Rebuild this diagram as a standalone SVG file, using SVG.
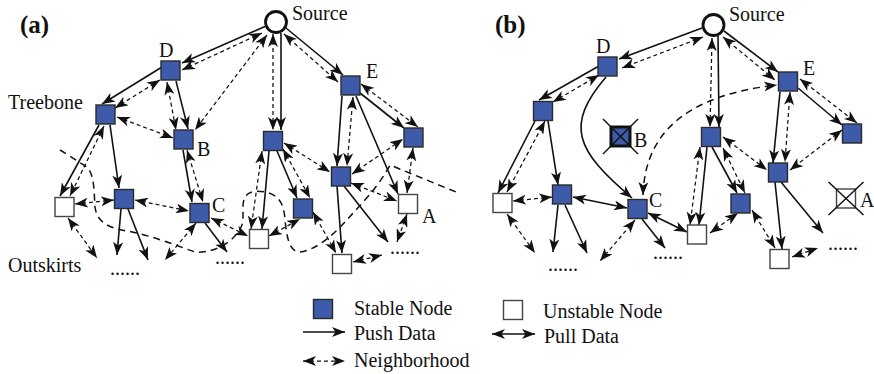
<svg xmlns="http://www.w3.org/2000/svg" width="874" height="374" viewBox="0 0 874 374">
<style>
text{font-family:"Liberation Serif","Times New Roman",serif;font-size:20px;fill:#111}
.t{font-weight:bold;font-size:25px}
.s{stroke:#111;stroke-width:1.6;fill:none;marker-end:url(#ah)}
.p{stroke:#111;stroke-width:1.6;fill:none;marker-start:url(#ah);marker-end:url(#ah)}
.d{stroke:#111;stroke-width:1.25;stroke-dasharray:4 3;fill:none;marker-start:url(#ah);marker-end:url(#ah)}
.dl{stroke:#111;stroke-width:1.5;stroke-dasharray:7 5;fill:none;marker-start:url(#ah);marker-end:url(#ah)}
.bd{stroke:#111;stroke-width:1.5;stroke-dasharray:7 5;fill:none}
.n{fill:#3d5ba9;stroke:#2a2a2a;stroke-width:1.4}
.u{fill:#fff;stroke:#444;stroke-width:1.4}
.src{fill:#fff;stroke:#111;stroke-width:2.8}
.x{stroke:#111;stroke-width:1.5}
</style>
<defs>
<marker id="ah" viewBox="0 0 13 10" refX="13" refY="5" markerWidth="13" markerHeight="10" orient="auto-start-reverse" markerUnits="userSpaceOnUse">
<path d="M0,0 L13,5 L0,10 L3.5,5 Z" fill="#111"/>
</marker>
</defs>
<rect width="874" height="374" fill="#fff"/>

<g id="connectors">
<!-- panel a boundary -->
<path class="bd" d="M60,150 L87,167 C95,175 94,195 95,207 C97,222 108,228 127,231 C150,235 175,245 195,252 C215,254 238,240 243,222 L243,205 C244,192 252,190 265,192 C280,195 284,205 285,220 C287,240 290,252 300,252 C315,250 330,238 345,222 C360,205 378,188 390,165 L456,192"/>
<!-- panel a push -->
<path class="s" d="M266,26 L182,63"/>
<path class="s" d="M162,67 L102,104"/>
<path class="s" d="M176,81 L188,129"/>
<path class="s" d="M281,33 L281,130"/>
<path class="s" d="M286,28 L343,75"/>
<path class="s" d="M360,93 L404,128"/>
<path class="s" d="M342,96 L337,166"/>
<path class="s" d="M356,96 L398,194"/>
<path class="s" d="M99,125 L60,196"/>
<path class="s" d="M110,125 L119,188"/>
<path class="s" d="M183,150 L192,202"/>
<path class="s" d="M269,151 L262,229"/>
<path class="s" d="M277,151 L297,198"/>
<path class="s" d="M337,186 L342,253"/>
<path class="s" d="M344,186 L388,242"/>
<path class="s" d="M121,209 L117,255"/>
<path class="s" d="M128,209 L148,260"/>
<path class="s" d="M205,223 L227,252"/>
<!-- panel a neighborhood -->
<path class="d" d="M262,33 L182,70"/>
<path class="d" d="M267,35 L195,130"/>
<path class="d" d="M273,34 L273,130"/>
<path class="d" d="M284,34 L338,82"/>
<path class="d" d="M160,80 L115,108"/>
<path class="d" d="M167,82 L176,130"/>
<path class="d" d="M117,117 L173,138"/>
<path class="d" d="M104,126 L70,196"/>
<path class="d" d="M75,204 L114,200"/>
<path class="d" d="M135,200 L189,211"/>
<path class="d" d="M68,218 L97,258"/>
<path class="d" d="M196,223 L165,260"/>
<path class="d" d="M187,150 L203,202"/>
<path class="d" d="M211,218 L248,236"/>
<path class="d" d="M262,151 L251,229"/>
<path class="d" d="M283,149 L310,198"/>
<path class="d" d="M284,143 L330,172"/>
<path class="d" d="M353,97 L347,166"/>
<path class="d" d="M361,84 L418,127"/>
<path class="d" d="M352,174 L403,139"/>
<path class="d" d="M413,148 L407,193"/>
<path class="d" d="M351,183 L397,201"/>
<path class="d" d="M269,236 L300,219"/>
<path class="d" d="M313,212 L336,253"/>
<path class="d" d="M353,262 L382,255"/>
<path class="d" d="M407,214 L397,242"/>
<!-- panel b push -->
<path class="s" d="M702,28 L619,59"/>
<path class="s" d="M718,36 L719,127"/>
<path class="s" d="M724,31 L778,72"/>
<path class="s" d="M599,66 L539,100"/>
<path class="s" d="M606,77 C565,125 575,150 632,198"/>
<path class="s" d="M535,121 L498,193"/>
<path class="s" d="M548,121 L558,185"/>
<path class="s" d="M780,92 L773,163"/>
<path class="s" d="M798,88 L842,125"/>
<path class="s" d="M707,147 L699,225"/>
<path class="s" d="M712,147 L737,193"/>
<path class="s" d="M775,182 L782,249"/>
<path class="s" d="M781,182 L823,233"/>
<path class="s" d="M558,205 L553,252"/>
<path class="s" d="M565,205 L587,253"/>
<path class="s" d="M642,219 L665,248"/>
<!-- panel b pull -->
<path class="p" d="M573,197 L627,208"/>
<path class="p" d="M648,213 L687,232"/>
<!-- panel b neighborhood -->
<path class="d" d="M703,37 L622,68"/>
<path class="d" d="M712,38 L710,127"/>
<path class="d" d="M723,37 L775,80"/>
<path class="d" d="M599,75 L553,102"/>
<path class="d" d="M545,121 L507,192"/>
<path class="d" d="M513,201 L552,197"/>
<path class="d" d="M507,214 L535,253"/>
<path class="d" d="M635,220 L600,261"/>
<path class="dl" d="M643,195 C645,130 690,95 777,85"/>
<path class="d" d="M700,147 L690,225"/>
<path class="d" d="M723,148 L745,193"/>
<path class="d" d="M723,137 L767,170"/>
<path class="d" d="M790,92 L785,162"/>
<path class="d" d="M800,79 L857,123"/>
<path class="d" d="M842,130 L790,170"/>
<path class="d" d="M710,233 L738,213"/>
<path class="d" d="M752,210 L775,248"/>
<path class="d" d="M792,257 L818,248"/>
</g>

<!-- panel a nodes -->
<text class="t" x="20" y="33">(a)</text>
<g id="a-source"><circle class="src" cx="276" cy="22" r="10.5"/><text x="292" y="20">Source</text></g>
<g id="a-D"><rect class="n" x="161" y="61" width="19" height="19"/><text x="159" y="57">D</text></g>
<g id="a-treebone"><rect class="n" x="96" y="105" width="19" height="19"/><text x="8" y="109">Treebone</text></g>
<g id="a-B"><rect class="n" x="174" y="130" width="19" height="19"/><text x="197" y="156">B</text></g>
<g id="a-F"><rect class="n" x="263.5" y="131.5" width="19" height="19"/></g>
<g id="a-E"><rect class="n" x="341" y="76" width="19" height="19"/><text x="366" y="78">E</text></g>
<g id="a-G"><rect class="n" x="404" y="128" width="19" height="19"/></g>
<g id="a-H"><rect class="n" x="331.5" y="167" width="19" height="19"/></g>
<g id="a-U1"><rect class="u" x="55" y="197.5" width="19" height="19"/></g>
<g id="a-N1"><rect class="n" x="114.5" y="189.5" width="19" height="19"/></g>
<g id="a-C"><rect class="n" x="190" y="203.5" width="19" height="19"/><text x="212" y="212">C</text></g>
<g id="a-U2"><rect class="u" x="249.5" y="229.5" width="19" height="19"/></g>
<g id="a-N2"><rect class="n" x="293.5" y="199" width="19" height="19"/></g>
<g id="a-A"><rect class="u" x="398.5" y="194.5" width="19" height="19"/><text x="422" y="223">A</text></g>
<g id="a-U3"><rect class="u" x="332.5" y="254.5" width="19" height="19"/></g>
<g id="a-dots">
<text x="110" y="275">......</text>
<text x="215" y="263.5">......</text>
<text x="390" y="253.5">......</text>
<text x="8" y="272">Outskirts</text>
</g>

<!-- panel b nodes -->
<text class="t" x="495" y="33">(b)</text>
<g id="b-source"><circle class="src" cx="713.5" cy="25" r="10.5"/><text x="729" y="21">Source</text></g>
<g id="b-D"><rect class="n" x="598" y="57" width="19" height="19"/><text x="596" y="53">D</text></g>
<g id="b-T"><rect class="n" x="533.5" y="101.5" width="19" height="19"/></g>
<g id="b-B"><rect x="611" y="127" width="19" height="19" fill="#3d5ba9" stroke="#111" stroke-width="3"/><line class="x" x1="603" y1="119" x2="638" y2="154"/><line class="x" x1="638" y1="119" x2="603" y2="154"/><text x="634" y="147">B</text></g>
<g id="b-F"><rect class="n" x="701.5" y="127.5" width="19" height="19"/></g>
<g id="b-E"><rect class="n" x="778.5" y="72" width="19" height="19"/><text x="803" y="75">E</text></g>
<g id="b-G"><rect class="n" x="842.5" y="124" width="19" height="19"/></g>
<g id="b-H"><rect class="n" x="768.5" y="163" width="19" height="19"/></g>
<g id="b-U1"><rect class="u" x="493" y="193.5" width="19" height="19"/></g>
<g id="b-N1"><rect class="n" x="552.5" y="185" width="19" height="19"/></g>
<g id="b-C"><rect class="n" x="628" y="199.5" width="19" height="19"/><text x="649" y="207">C</text></g>
<g id="b-U2"><rect class="u" x="687.5" y="225" width="19" height="19"/></g>
<g id="b-N2"><rect class="n" x="731" y="194" width="19" height="19"/></g>
<g id="b-U3"><rect class="u" x="770" y="249.5" width="19" height="19"/></g>
<g id="b-A"><rect class="u" x="836.5" y="189" width="19" height="19"/><line class="x" x1="828.5" y1="182" x2="863.5" y2="215"/><line class="x" x1="863.5" y1="182" x2="828.5" y2="215"/><text x="860" y="207">A</text></g>
<g id="b-dots">
<text x="548" y="271">......</text>
<text x="653" y="259">......</text>
<text x="828" y="250">......</text>
</g>

<!-- legend -->
<g id="legend">
<rect class="n" x="313.5" y="299.5" width="19" height="19"/>
<text x="354" y="315">Stable Node</text>
<rect class="u" x="503.5" y="300.5" width="19" height="19"/>
<text x="543" y="318">Unstable Node</text>
<path class="s" d="M303,332 L345,332"/>
<text x="354" y="340">Push Data</text>
<path class="p" d="M492,334 L535,334"/>
<text x="544" y="343">Pull Data</text>
<path class="d" d="M303,361 L345,361"/>
<text x="354" y="367">Neighborhood</text>
</g>
</svg>
